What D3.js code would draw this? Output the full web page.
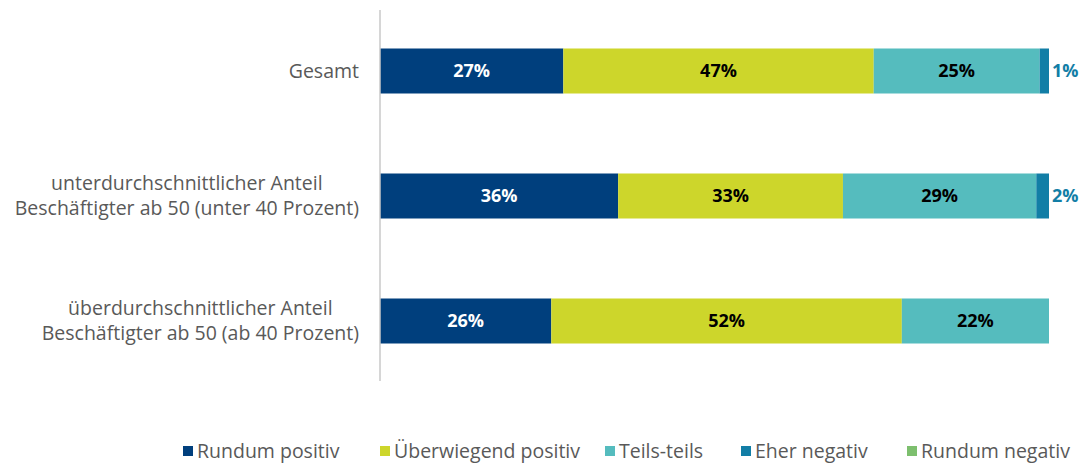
<!DOCTYPE html>
<html><head><meta charset="utf-8">
<script src="https://cdn.jsdelivr.net/npm/d3@7"></script>
<style>body{margin:0;background:#fff;} svg{display:block;}</style>
</head><body>
<svg id="c" width="1087" height="465"></svg>
<script>
const categories = ["Gesamt", "unterdurchschnittlicher Anteil\nBeschäftigter ab 50 (unter 40 Prozent)", "überdurchschnittlicher Anteil\nBeschäftigter ab 50 (ab 40 Prozent)"];
const seriesNames = ["Rundum positiv", "Überwiegend positiv", "Teils-teils", "Eher negativ", "Rundum negativ"];
const rundumPositiv = [27.4, 35.6, 25.6];
const ueberwiegendPositiv = [46.4, 33.6, 52.4];
const teilsTeils = [24.8, 28.9, 22.0];
const eherNegativ = [1.4, 1.9, 0];
const rundumNegativ = [0, 0, 0];
const valueLabels = [["27%", "47%", "25%", "1%", ""], ["36%", "33%", "29%", "2%", ""], ["26%", "52%", "22%", "", ""]];
const colors = ["#003f7d", "#cdd62b", "#55bcbe", "#127ea6", "#7dbf6e"];
const labelColors = ["#ffffff", "#000000", "#000000", "#127ea6", "#000000"];

const FONT = "'Open Sans', 'Liberation Sans', sans-serif";
const VFONT = "'Open Sans', 'Liberation Sans', sans-serif";
const svg = d3.select("#c");
const seriesData = [rundumPositiv, ueberwiegendPositiv, teilsTeils, eherNegativ, rundumNegativ];
const rows = categories.map((c, i) => {
  const o = {cat: c, idx: i};
  seriesNames.forEach((s, j) => o[s] = seriesData[j][i]);
  return o;
});
const stack = d3.stack().keys(seriesNames)(rows);

const x = d3.scaleLinear().domain([0, 100]).range([380, 1049]);
const y = d3.scaleBand().domain(categories).range([-14, 406]).paddingInner(0.64).paddingOuter(0.5);

// bars
stack.forEach((layer, j) => {
  svg.append("g").selectAll("rect").data(layer).join("rect")
    .attr("x", d => x(d[0])).attr("width", d => x(d[1]) - x(d[0]))
    .attr("y", d => y(d.data.cat)).attr("height", y.bandwidth())
    .attr("fill", colors[j]);
});
// labels
stack.forEach((layer, j) => {
  layer.forEach((d, i) => {
    const t = valueLabels[i][j];
    if (!t) return;
    const w = x(d[1]) - x(d[0]);
    const outside = w < 30;
    svg.append("text")
      .attr("x", outside ? x(d[1]) + 3 : (x(d[0]) + x(d[1])) / 2)
      .attr("y", y(d.data.cat) + y.bandwidth() / 2)
      .attr("dy", "0.36em")
      .attr("text-anchor", outside ? "start" : "middle")
      .attr("font-family", VFONT).attr("font-weight", "bold").attr("font-size", 18)
      .attr("fill", labelColors[j]).text(t);
  });
});
// axis line
const yAxis = d3.axisLeft(y).tickSize(0).tickFormat("");
const ag = svg.append("g").attr("transform", "translate(380,0)").call(yAxis);
ag.select(".domain").attr("stroke", "#c8c8c8").attr("stroke-width", 1.5).attr("d", "M0,10V381");

// category labels
categories.forEach(c => {
  const lines = c.split("\n");
  const g = svg.append("g");
  const cy = y(c) + y.bandwidth() / 2;
  const lh = 25;
  const texts = lines.map((l, k) => g.append("text")
    .attr("y", cy + (k - (lines.length - 1) / 2) * lh).attr("dy", "0.35em")
    .attr("font-family", FONT).attr("font-size", 19.5).attr("fill", "#595959")
    .attr("text-anchor", "middle").text(l));
  const maxW = d3.max(texts, t => t.node().getComputedTextLength());
  texts.forEach(t => t.attr("x", 359 - maxW / 2));
});

// legend
const legX = [183, 380, 605, 741, 907];
seriesNames.forEach((s, j) => {
  const g = svg.append("g").attr("transform", `translate(${legX[j]},451)`);
  g.append("rect").attr("x", 0).attr("y", -5).attr("width", 10).attr("height", 10).attr("fill", colors[j]);
  g.append("text").attr("x", 14).attr("dy", "0.35em").attr("font-family", FONT)
    .attr("font-size", 19.5).attr("fill", "#595959").text(s);
});
</script>
</body></html>
